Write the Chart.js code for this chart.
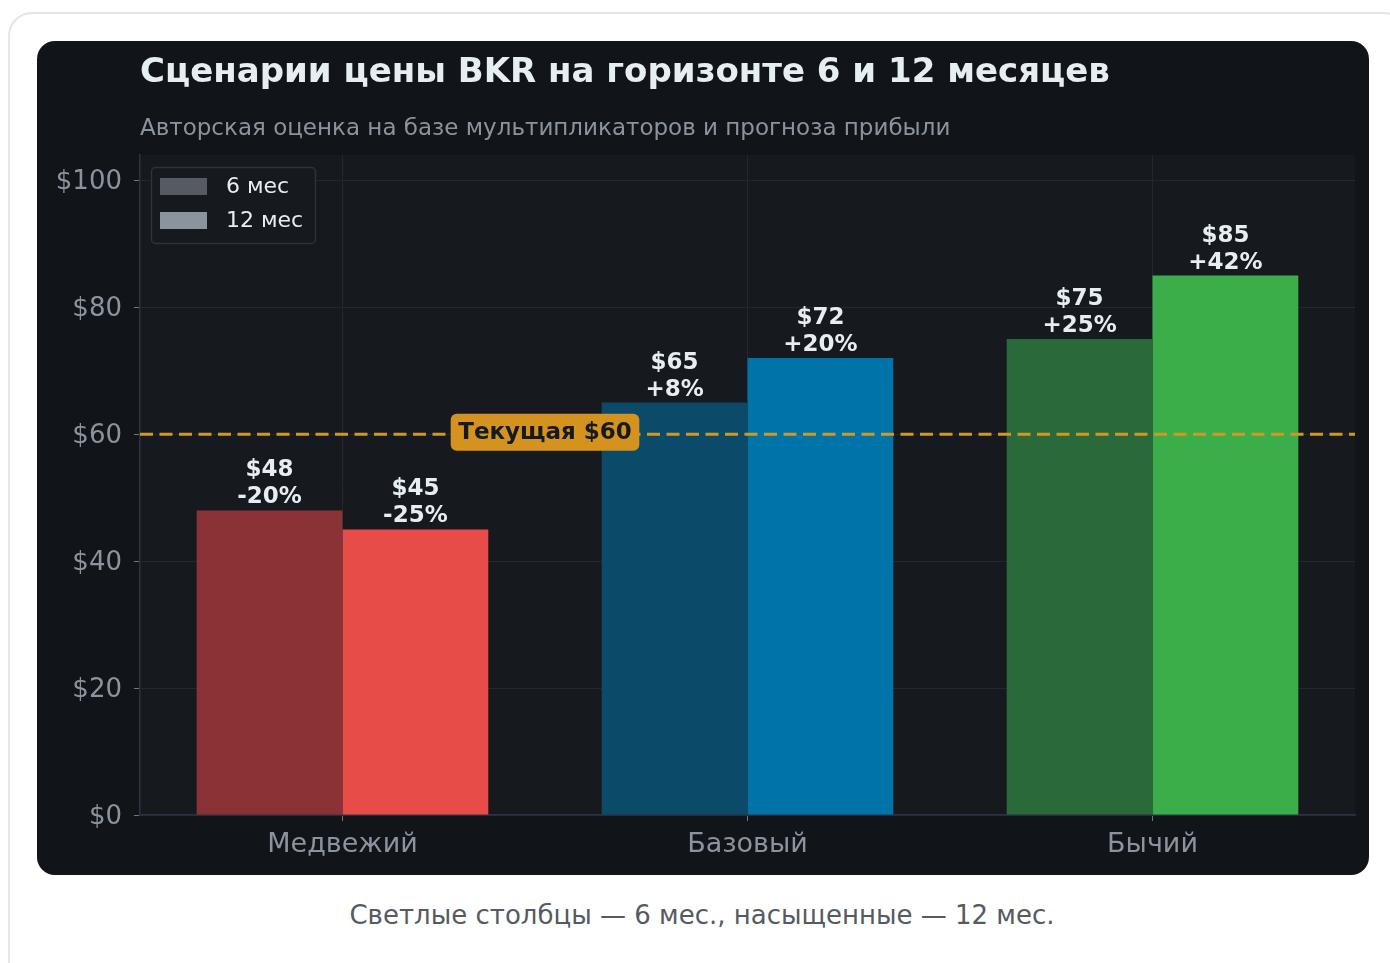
<!DOCTYPE html>
<html lang="ru">
<head>
<meta charset="utf-8">
<script src="https://cdn.jsdelivr.net/npm/chart.js@4.4.1/dist/chart.umd.min.js"></script>
<style>
  html, body { margin: 0; padding: 0; background: #fff; width: 1390px; height: 963px; overflow: hidden; }
  .card {
    position: absolute; left: 8px; top: 12px; width: 1400px; height: 1000px;
    border: 2px solid #e3e5e8; border-radius: 24px; box-sizing: border-box;
  }
  .panel {
    position: absolute; left: 37px; top: 41px; width: 1332px; height: 834px;
    background: #111418; border-radius: 18px; overflow: hidden;
  }
  .caption {
    position: absolute; left: 8px; width: 1388px; top: 900px;
    text-align: center; font-family: 'DejaVu Sans', sans-serif; font-size: 26px; color: #555b61;
  }
</style>
</head>
<body>
<div class="card"></div>
<div class="panel"><canvas id="chart" width="1332" height="834"></canvas></div>
<div class="caption">Светлые столбцы — 6 мес., насыщенные — 12 мес.</div>
<script>
// data
const scenarios = ['Медвежий', 'Базовый', 'Бычий'];
const price6m = [48, 65, 75];
const price12m = [45, 72, 85];
const change6m = ['-20%', '+8%', '+25%'];
const change12m = ['-25%', '+20%', '+42%'];
const currentPrice = 60;
const yTicks = [0, 20, 40, 60, 80, 100];

const colors6m = ['#8a3236', '#0b4a69', '#29693a'];
const colors12m = ['#e84c48', '#0073a9', '#3bae4a'];

const FONT = "'DejaVu Sans', sans-serif";

// plot background + header text
const backdrop = {
  id: 'backdrop',
  beforeDraw(chart) {
    const { ctx, chartArea: a } = chart;
    ctx.save();
    ctx.fillStyle = '#161a1f';
    ctx.fillRect(a.left, a.top, a.right - a.left, a.bottom - a.top);
    ctx.fillStyle = '#e6edf3';
    ctx.font = 'bold 34px ' + FONT;
    ctx.textBaseline = 'alphabetic';
    ctx.fillText('Сценарии цены BKR на горизонте 6 и 12 месяцев', 103, 41);
    ctx.fillStyle = '#8b949e';
    ctx.font = '23px ' + FONT;
    ctx.fillText('Авторская оценка на базе мультипликаторов и прогноза прибыли', 103, 94);
    ctx.restore();
  }
};

// value labels, current price line, legend
const overlay = {
  id: 'overlay',
  afterDatasetsDraw(chart) {
    const { ctx, chartArea: a, scales } = chart;
    ctx.save();
    // bar labels
    ctx.font = 'bold 23px ' + FONT;
    ctx.fillStyle = '#e6edf3';
    ctx.textAlign = 'center';
    ctx.textBaseline = 'alphabetic';
    const changes = [change6m, change12m];
    chart.data.datasets.forEach((ds, di) => {
      chart.getDatasetMeta(di).data.forEach((bar, i) => {
        ctx.fillText('$' + ds.data[i], bar.x, bar.y - 34);
        ctx.fillText(changes[di][i], bar.x, bar.y - 7);
      });
    });

    // current price
    const y = scales.y.getPixelForValue(currentPrice);
    ctx.strokeStyle = '#d29922';
    ctx.lineWidth = 3;
    ctx.setLineDash([13, 6.5]);
    ctx.beginPath();
    ctx.moveTo(a.left, y);
    ctx.lineTo(a.right, y);
    ctx.stroke();
    ctx.setLineDash([]);

    const lx = (scales.x.getPixelForValue(0) + scales.x.getPixelForValue(1)) / 2;
    const txt = 'Текущая $' + currentPrice;
    ctx.font = 'bold 23px ' + FONT;
    const w = ctx.measureText(txt).width + 15;
    const h = 37;
    ctx.fillStyle = '#d4931e';
    ctx.beginPath();
    ctx.roundRect(lx - w / 2, y - h / 2 - 2, w, h, 6);
    ctx.fill();
    ctx.fillStyle = '#161a1f';
    ctx.textBaseline = 'middle';
    ctx.fillText(txt, lx, y - 1);

    // legend
    const bx = 114, by = 126, bw = 164, bh = 76;
    ctx.fillStyle = '#161a1f';
    ctx.strokeStyle = '#2d323b';
    ctx.lineWidth = 1.5;
    ctx.beginPath();
    ctx.roundRect(bx + 0.5, by + 0.5, bw, bh, 4);
    ctx.fill();
    ctx.stroke();
    const swatches = ['#555a63', '#8b939c'];
    ctx.font = '22px ' + FONT;
    ctx.textAlign = 'left';
    ctx.textBaseline = 'middle';
    chart.data.datasets.forEach((ds, di) => {
      const sy = by + 11 + di * 34;
      ctx.fillStyle = swatches[di];
      ctx.fillRect(bx + 9, sy, 47, 17);
      ctx.fillStyle = '#e6edf3';
      ctx.fillText(ds.label, bx + 75, sy + 9);
    });
    ctx.restore();
  }
};

new Chart(document.getElementById('chart'), {
  type: 'bar',
  data: {
    labels: scenarios,
    datasets: [
      { label: '6 мес', data: price6m, backgroundColor: colors6m },
      { label: '12 мес', data: price12m, backgroundColor: colors12m }
    ]
  },
  options: {
    responsive: false,
    animation: false,
    devicePixelRatio: 1,
    layout: { padding: { left: 0, top: 114, right: 14, bottom: 0 } },
    datasets: { bar: { categoryPercentage: 0.72, barPercentage: 1.0, borderWidth: 0 } },
    plugins: { legend: { display: false }, tooltip: { enabled: false } },
    scales: {
      x: {
        offset: true,
        grid: { offset: false, color: '#222736', tickColor: '#6e7681', tickLength: 6, lineWidth: 1 },
        border: { color: '#2c3140', width: 1.5 },
        ticks: { color: '#8b949e', font: { family: FONT, size: 27 }, padding: 8 },
        afterFit(s) { s.height = 60; }
      },
      y: {
        min: 0, max: 104,
        afterBuildTicks(s) { s.ticks = yTicks.map(v => ({ value: v })); },
        grid: { color: '#222736', tickColor: '#6e7681', tickLength: 6, lineWidth: 1 },
        border: { color: '#2c3140', width: 1.5 },
        ticks: { color: '#8b949e', font: { family: FONT, size: 26 }, padding: 12, labelOffset: 2, callback: v => '$' + v },
        afterFit(s) { s.width = 103; }
      }
    }
  },
  plugins: [backdrop, overlay]
});
</script>
</body>
</html>
